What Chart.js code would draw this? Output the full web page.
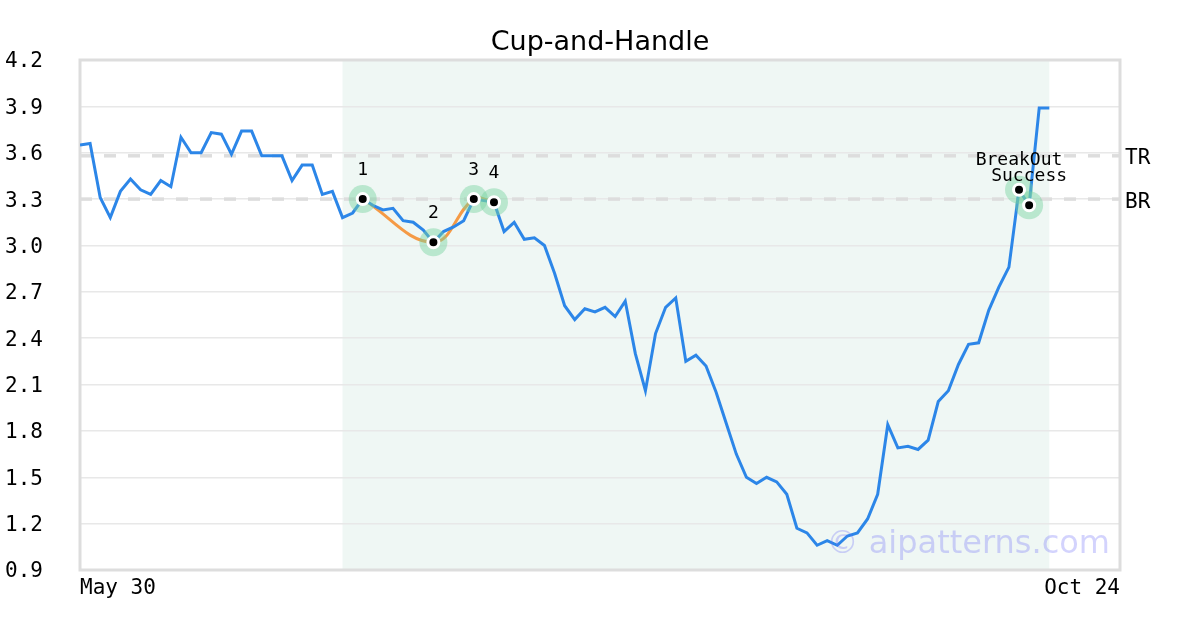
<!DOCTYPE html>
<html>
<head>
<meta charset="utf-8">
<script src="https://cdn.jsdelivr.net/npm/chart.js"></script>
<style>
  html, body { margin: 0; padding: 0; background: #fff; }
  #wrap { width: 1200px; height: 630px; }
</style>
</head>
<body>
<div id="wrap"><canvas id="chart" width="1200" height="630"></canvas></div>
<script>
// price series, one value per trading day (index 0 = May 30)
const prices = [
  3.65, 3.66, 3.31, 3.18, 3.35, 3.43, 3.36, 3.33, 3.42, 3.38,
  3.70, 3.60, 3.60, 3.73, 3.72, 3.59, 3.74, 3.74, 3.58, 3.58,
  3.58, 3.42, 3.52, 3.52, 3.33, 3.35, 3.18, 3.21, 3.30, 3.26,
  3.23, 3.24, 3.16, 3.15, 3.10, 3.02, 3.09, 3.12, 3.16, 3.30,
  3.29, 3.28, 3.09, 3.15, 3.04, 3.05, 3.00, 2.82, 2.61, 2.52,
  2.59, 2.57, 2.60, 2.54, 2.64, 2.30, 2.06, 2.43, 2.60, 2.66,
  2.25, 2.29, 2.22, 2.05, 1.85, 1.65, 1.50, 1.46, 1.50, 1.47,
  1.39, 1.17, 1.14, 1.06, 1.09, 1.06, 1.12, 1.14, 1.23, 1.39,
  1.84, 1.69, 1.70, 1.68, 1.74, 1.99, 2.06, 2.23, 2.36, 2.37,
  2.58, 2.73, 2.86, 3.36, 3.26, 3.89, 3.89
];

// pattern points
const markerIdx = [28, 35, 39, 41, 93, 94];
const markerLabels = ['1', '2', '3', '4', 'BreakOut', 'Success'];
const cupIdx = [28, 35, 39, 41];

// shaded pattern window
const zoneStart = 26;
const zoneEnd = 96;

// resistance / breakout levels
const levelNames = ['TR', 'BR'];
const levelValues = [3.58, 3.30];

const yTicks = [0.9, 1.2, 1.5, 1.8, 2.1, 2.4, 2.7, 3.0, 3.3, 3.6, 3.9, 4.2];
const xTickIdx = [0, 103];
const xTickLabels = ['May 30', 'Oct 24'];

const MONO = '"DejaVu Sans Mono", monospace';
const SANS = '"DejaVu Sans", sans-serif';

const pricePts = prices.map((v, i) => ({ x: i, y: v }));
const markerPts = markerIdx.map(i => ({ x: i, y: prices[i] }));
const cupPts = cupIdx.map(i => ({ x: i, y: prices[i] }));

const levelSets = levelValues.map((v, k) => ({
  label: levelNames[k],
  data: [{ x: xTickIdx[0], y: v }, { x: xTickIdx[1], y: v }],
  borderColor: '#dddddd',
  borderWidth: 3.5,
  borderDash: [12, 12],
  pointRadius: 0,
  order: 5
}));

const overlay = {
  id: 'overlay',
  beforeDraw(chart) {
    const { ctx, chartArea: a, scales: { x } } = chart;
    ctx.save();
    ctx.fillStyle = '#eff7f4';
    const x0 = x.getPixelForValue(zoneStart), x1 = x.getPixelForValue(zoneEnd);
    ctx.fillRect(x0, a.top, x1 - x0, a.bottom - a.top);
    ctx.restore();
  },
  beforeDatasetsDraw(chart) {
    const { ctx, chartArea: a } = chart;
    ctx.save();
    ctx.strokeStyle = '#dddddd';
    ctx.lineWidth = 3;
    ctx.strokeRect(a.left, a.top, a.right - a.left, a.bottom - a.top);
    ctx.restore();
  },
  afterDatasetsDraw(chart) {
    const { ctx, chartArea: a, scales: { x, y } } = chart;
    ctx.save();
    // watermark
    ctx.font = '32px ' + SANS;
    ctx.fillStyle = 'rgba(110,110,250,0.3)';
    ctx.textAlign = 'right';
    ctx.textBaseline = 'middle';
    ctx.fillText('\u00a9 aipatterns.com', a.right - 10, a.bottom - 25);

    // level names
    ctx.fillStyle = '#000';
    ctx.font = '21px ' + MONO;
    ctx.textAlign = 'left';
    levelValues.forEach((v, k) => {
      ctx.fillText(levelNames[k], a.right + 5, y.getPixelForValue(v) + 3);
    });

    // point labels
    ctx.font = '18px ' + MONO;
    ctx.textAlign = 'center';
    markerIdx.forEach((i, k) => {
      ctx.fillText(markerLabels[k], x.getPixelForValue(i), y.getPixelForValue(prices[i]) - 29);
    });
    ctx.restore();
  }
};

new Chart(document.getElementById('chart'), {
  type: 'line',
  data: {
    datasets: [
      {
        label: 'dots',
        data: markerPts,
        showLine: false,
        pointRadius: 5.5,
        pointBackgroundColor: '#000',
        pointBorderColor: '#fff',
        pointBorderWidth: 3,
        order: 0
      },
      {
        label: 'halo',
        data: markerPts,
        showLine: false,
        pointRadius: 14,
        pointBackgroundColor: 'rgba(120,210,160,0.45)',
        pointBorderWidth: 0,
        order: 1
      },
      {
        label: 'price',
        data: pricePts,
        borderColor: '#2c86e8',
        borderWidth: 3,
        pointRadius: 0,
        tension: 0,
        order: 2
      },
      {
        label: 'cup',
        data: cupPts,
        borderColor: '#f59a45',
        borderWidth: 3,
        pointRadius: 0,
        tension: 0.4,
        order: 3
      },
      ...levelSets
    ]
  },
  options: {
    responsive: false,
    animation: false,
    events: [],
    layout: { padding: 0 },
    plugins: {
      legend: { display: false },
      tooltip: { enabled: false },
      title: {
        display: true,
        text: 'Cup-and-Handle',
        color: '#000',
        font: { family: SANS, size: 27, weight: 'normal' },
        padding: { top: 27, bottom: 0.6 }
      }
    },
    scales: {
      x: {
        type: 'linear',
        min: xTickIdx[0],
        max: xTickIdx[1],
        grid: { display: false },
        border: { display: false },
        afterBuildTicks: s => { s.ticks = xTickIdx.map(v => ({ value: v })); },
        afterFit: s => { s.height = 60; },
        ticks: {
          autoSkip: false,
          maxRotation: 0,
          align: 'inner',
          padding: -2,
          color: '#000',
          font: { family: MONO, size: 21 },
          callback: v => xTickLabels[xTickIdx.indexOf(v)]
        }
      },
      y: {
        min: yTicks[0],
        max: yTicks[yTicks.length - 1],
        grid: { color: '#e8e8e8', lineWidth: 1.5, drawTicks: false },
        border: { display: false },
        afterBuildTicks: s => { s.ticks = yTicks.map(v => ({ value: v })); },
        afterFit: s => { s.width = 80; },
        ticks: {
          crossAlign: 'near',
          padding: 37,
          labelOffset: 2,
          color: '#000',
          font: { family: MONO, size: 21 },
          callback: v => v.toFixed(1)
        }
      },
      // empty right-hand axis that keeps room for the TR / BR names
      y2: {
        position: 'right',
        display: true,
        grid: { display: false },
        border: { display: false },
        ticks: { display: false },
        afterFit: s => { s.width = 80; }
      }
    }
  },
  plugins: [overlay]
});
</script>
</body>
</html>
